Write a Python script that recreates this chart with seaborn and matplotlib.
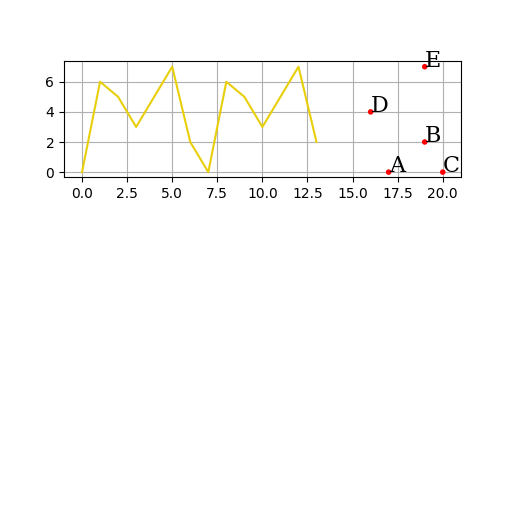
import matplotlib
matplotlib.use("Agg")
import matplotlib.pyplot as plt
import seaborn as sns
import pandas as pd

# yellow line
line_x = list(range(14))
line_y = [0, 6, 5, 3, 5, 7, 2, 0, 6, 5, 3, 5, 7, 2]

# labelled red points
point_labels = ["A", "B", "C", "D", "E"]
point_x = [17, 19, 20, 16, 19]
point_y = [0, 2, 0, 4, 7]

line_df = pd.DataFrame({"x": line_x, "y": line_y})
pts_df = pd.DataFrame({"x": point_x, "y": point_y, "label": point_labels})

fig = plt.figure(figsize=(5.12, 5.12), dpi=100)
ax = fig.add_subplot(3, 1, 1)

sns.lineplot(data=line_df, x="x", y="y", color="#e8cf0a", linewidth=1.5, ax=ax)
sns.scatterplot(data=pts_df, x="x", y="y", color="red", s=16, edgecolor="none", ax=ax, zorder=3)

for _, r in pts_df.iterrows():
    ax.text(r["x"], r["y"], r["label"], family="DejaVu Serif", fontsize=16)

ax.grid(True, color="#b0b0b0", linewidth=0.8)
ax.set_xlabel("")
ax.set_ylabel("")
ax.set_xlim(-1, 21)

fig.savefig("out.png", dpi=100)
